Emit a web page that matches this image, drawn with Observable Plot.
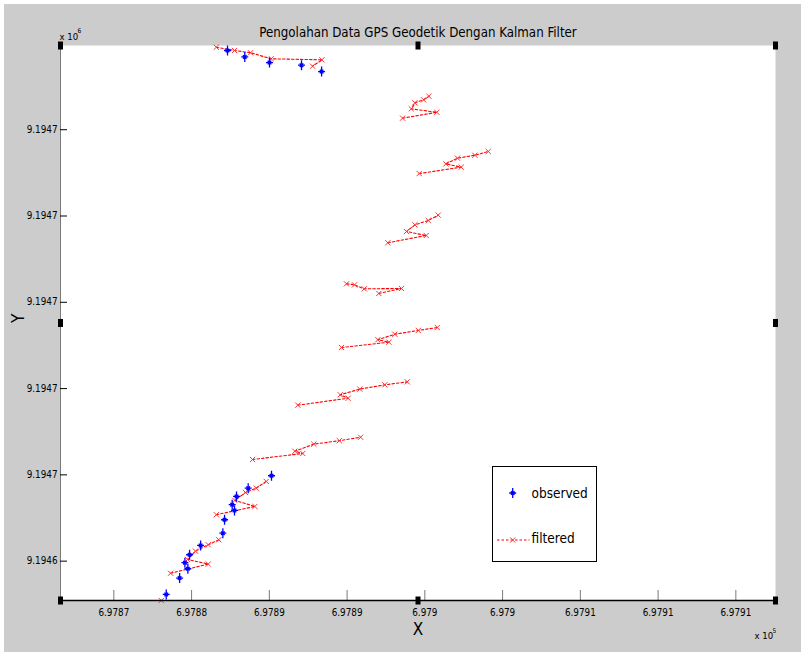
<!DOCTYPE html>
<html>
<head>
<meta charset="utf-8">
<script src="https://cdn.jsdelivr.net/npm/d3@7"></script>
<script src="https://cdn.jsdelivr.net/npm/@observablehq/plot@0.6"></script>
<style>
  html, body { margin: 0; padding: 0; background: #ffffff; }
</style>
</head>
<body>
<div id="chart"></div>
<script>
// Texts
const chartTitle = "Pengolahan Data GPS Geodetik Dengan Kalman Filter";
const xAxisTitle = "X";
const yAxisTitle = "Y";
const seriesNames = ["observed", "filtered"];

// Axis ticks (UTM metres) and their printed labels (x 10^5 and x 10^6)
const xTicks = [697870, 697875, 697880, 697885, 697890, 697895, 697900, 697905, 697910];
const xTickLabels = ["6.9787", "6.9788", "6.9789", "6.9789", "6.979", "6.979", "6.9791", "6.9791", "6.9791"];
const yTicks = [9194645, 9194650, 9194655, 9194660, 9194665, 9194670];
const yTickLabels = ["9.1946", "9.1947", "9.1947", "9.1947", "9.1947", "9.1947"];
const xLimits = [697866.57, 697912.55];
const yLimits = [9194642.72, 9194674.88];

// Observed GPS positions
const observedX = [
  697877.31, 697878.42, 697880.01, 697882.07, 697883.36,
  697880.14, 697878.64, 697877.89, 697877.61, 697877.76, 697877.12, 697877.01,
  697875.58, 697874.87, 697874.57, 697874.76, 697874.23, 697873.37
];
const observedY = [
  9194674.59, 9194674.22, 9194673.89, 9194673.74, 9194673.37,
  9194649.95, 9194649.23, 9194648.75, 9194648.27, 9194647.94, 9194647.40, 9194646.62,
  9194645.91, 9194645.37, 9194644.91, 9194644.56, 9194644.02, 9194643.07
];

// Kalman-filtered positions, one run per filter pass
const filteredRun = [
  0,
  1, 1, 1, 1, 1, 1,
  2, 2, 2, 2, 2, 2,
  3, 3, 3, 3, 3, 3,
  4, 4, 4, 4, 4, 4,
  5, 5, 5, 5, 5, 5,
  6, 6, 6, 6, 6,
  7, 7, 7, 7, 7, 7,
  8, 8, 8, 8, 8, 8,
  9, 9, 9, 9, 9, 9,
  10, 10, 10, 10, 10, 10
];
const filteredX = [
  697873.05,
  697873.65, 697876.07, 697874.74, 697875.25, 697876.07, 697876.75,
  697876.59, 697879.07, 697877.78, 697878.47, 697879.16, 697879.80,
  697878.92, 697882.15, 697881.64, 697882.86, 697884.50, 697885.87,
  697881.83, 697885.07, 697884.56, 697885.82, 697887.43, 697888.87,
  697884.64, 697887.69, 697886.98, 697888.07, 697889.58, 697890.80,
  697887.04, 697888.50, 697886.10, 697885.48, 697884.96,
  697887.62, 697890.09, 697888.82, 697889.36, 697890.22, 697890.86,
  697889.64, 697892.34, 697891.35, 697892.10, 697893.22, 697894.08,
  697888.57, 697890.77, 697889.13, 697889.36, 697889.92, 697890.26,
  697876.59, 697877.76, 697878.79, 697880.12, 697883.38, 697882.78
];
const filteredY = [
  9194642.72,
  9194644.30, 9194644.83, 9194645.10, 9194645.58, 9194645.95, 9194646.24,
  9194647.69, 9194648.17, 9194648.52, 9194648.98, 9194649.23, 9194649.62,
  9194650.89, 9194651.24, 9194651.37, 9194651.78, 9194651.98, 9194652.18,
  9194654.04, 9194654.44, 9194654.64, 9194654.97, 9194655.22, 9194655.39,
  9194657.38, 9194657.69, 9194657.83, 9194658.15, 9194658.37, 9194658.54,
  9194660.51, 9194660.80, 9194660.78, 9194661.01, 9194661.07,
  9194663.45, 9194663.87, 9194664.10, 9194664.49, 9194664.74, 9194665.05,
  9194667.46, 9194667.83, 9194668.02, 9194668.35, 9194668.52, 9194668.74,
  9194670.67, 9194671.01, 9194671.21, 9194671.56, 9194671.73, 9194671.94,
  9194674.78, 9194674.59, 9194674.46, 9194674.11, 9194674.05, 9194673.68
];

// Tables for the marks
const observed = observedX.map((x, i) => ({x, y: observedY[i]}));
const filtered = filteredX.map((x, i) => ({x, y: filteredY[i], run: filteredRun[i]}));
const xLabelOf = new Map(xTicks.map((t, i) => [t, xTickLabels[i]]));
const yLabelOf = new Map(yTicks.map((t, i) => [t, yTickLabels[i]]));

// Selection handles on the axes box: corners and edge midpoints
const xMid = (xLimits[0] + xLimits[1]) / 2;
const yMid = (yLimits[0] + yLimits[1]) / 2;
const handles = [
  [xLimits[0], yLimits[1]], [xMid, yLimits[1]], [xLimits[1], yLimits[1]],
  [xLimits[0], yMid], [xLimits[1], yMid],
  [xLimits[0], yLimits[0]], [xMid, yLimits[0]], [xLimits[1], yLimits[0]]
];

// Marker shapes
const asterisk = {
  draw(ctx) {
    ctx.moveTo(0, -5); ctx.lineTo(0, 5);
    ctx.moveTo(-3.5, 0); ctx.lineTo(3.5, 0);
    ctx.moveTo(-1.8, -1.8); ctx.lineTo(1.8, 1.8);
    ctx.moveTo(-1.8, 1.8); ctx.lineTo(1.8, -1.8);
  }
};
const handleBox = { draw(ctx) { ctx.rect(-2.5, -4, 5, 8); } };
const cross = {
  draw(ctx) {
    const r = 2.6;
    ctx.moveTo(-r, -r); ctx.lineTo(r, r);
    ctx.moveTo(-r, r); ctx.lineTo(r, -r);
  }
};

const FONT = '"DejaVu Sans Condensed", "Liberation Sans Narrow", "Liberation Sans", sans-serif';
const W = 805, H = 656;
const M = {left: 60, right: 30, top: 45, bottom: 56};
const frameW = W - M.left - M.right;
const frameH = H - M.top - M.bottom;

const blue = "#0000ff";
const red = "#ff0000";
const markerRed = "#ff3333";
const dash = "2.5,2";

// Legend box drawn inside the frame, near the lower right
function legend(index, scales, values, dims) {
  const fx = dims.marginLeft, fy = dims.marginTop;
  const g = d3.create("svg:g")
    .attr("font-family", FONT)
    .attr("text-anchor", "start");
  g.append("rect")
    .attr("x", fx + 432.5).attr("y", fy + 421.5)
    .attr("width", 104).attr("height", 95)
    .attr("fill", "white").attr("stroke", "black");
  g.append("path")
    .attr("transform", `translate(${fx + 452.7},${fy + 448})`)
    .attr("d", d3.symbol(asterisk)())
    .attr("fill", "none").attr("stroke", blue).attr("stroke-width", 1.3);
  g.append("text")
    .attr("x", fx + 471.5).attr("y", fy + 448).attr("dy", "0.35em")
    .attr("font-size", 13.5).text(seriesNames[0]);
  g.append("line")
    .attr("x1", fx + 437).attr("x2", fx + 469.5)
    .attr("y1", fy + 495).attr("y2", fy + 495)
    .attr("stroke", red).attr("stroke-width", 1.1).attr("stroke-dasharray", dash);
  g.append("path")
    .attr("transform", `translate(${fx + 452.7},${fy + 495})`)
    .attr("d", d3.symbol(cross)())
    .attr("fill", "none").attr("stroke", markerRed);
  g.append("text")
    .attr("x", fx + 471.5).attr("y", fy + 493).attr("dy", "0.35em")
    .attr("font-size", 13.5).text(seriesNames[1]);
  return g.node();
}

const chart = Plot.plot({
  width: W,
  height: H,
  marginLeft: M.left,
  marginRight: M.right,
  marginTop: M.top,
  marginBottom: M.bottom,
  style: {
    background: "#cccccc",
    boxShadow: "inset 0 0 0 4px #ffffff",
    fontFamily: FONT,
    fontSize: "9.8px",
    color: "#000000",
    overflow: "visible"
  },
  x: {domain: xLimits, label: null},
  y: {domain: yLimits, label: null},
  marks: [
    Plot.frame({fill: "white"}),
    Plot.ruleX([xLimits[0]], {stroke: "#7a7a7a"}),
    Plot.tickX(xTicks, {x: d => d, stroke: "#7a7a7a", insetTop: frameH - 10}),
    Plot.tickY(yTicks, {y: d => d, stroke: "#000", insetRight: frameW - 7}),
    Plot.axisX({ticks: xTicks, tickFormat: d => xLabelOf.get(d), tickSize: 0, tickPadding: 9}),
    Plot.axisY({ticks: yTicks, tickFormat: d => yLabelOf.get(d), tickSize: 0, tickPadding: 3}),
    Plot.line(filtered, {x: "x", y: "y", z: "run", stroke: red, strokeWidth: 1.1, strokeDasharray: dash}),
    Plot.dot(filtered, {x: "x", y: "y", symbol: cross, stroke: markerRed, strokeWidth: 1}),
    Plot.dot(observed, {x: "x", y: "y", symbol: asterisk, stroke: blue, strokeWidth: 1.3}),
    Plot.ruleY([yLimits[0]], {stroke: "#000", strokeWidth: 1.5}),
    Plot.dot(handles, {x: d => d[0], y: d => d[1], symbol: handleBox, fill: "#000", stroke: null}),
    Plot.text([chartTitle], {frameAnchor: "top", dy: -18, fontSize: 13.2}),
    Plot.text(["x 10"], {frameAnchor: "top-left", dx: -1, dy: -12, textAnchor: "start", fontSize: 9.5}),
    Plot.text(["6"], {frameAnchor: "top-left", dx: 17, dy: -17.5, textAnchor: "start", fontSize: 6.5}),
    Plot.text(["x 10"], {frameAnchor: "bottom-right", dx: -21, dy: 38, textAnchor: "start", fontSize: 9.5}),
    Plot.text(["5"], {frameAnchor: "bottom-right", dx: -3, dy: 32, textAnchor: "start", fontSize: 6.5}),
    Plot.text([xAxisTitle], {frameAnchor: "bottom", dy: 34, fontSize: 17}),
    Plot.text([yAxisTitle], {frameAnchor: "left", dx: -42, rotate: -90, fontSize: 17}),
    legend
  ]
});

document.getElementById("chart").appendChild(chart);
</script>
</body>
</html>
